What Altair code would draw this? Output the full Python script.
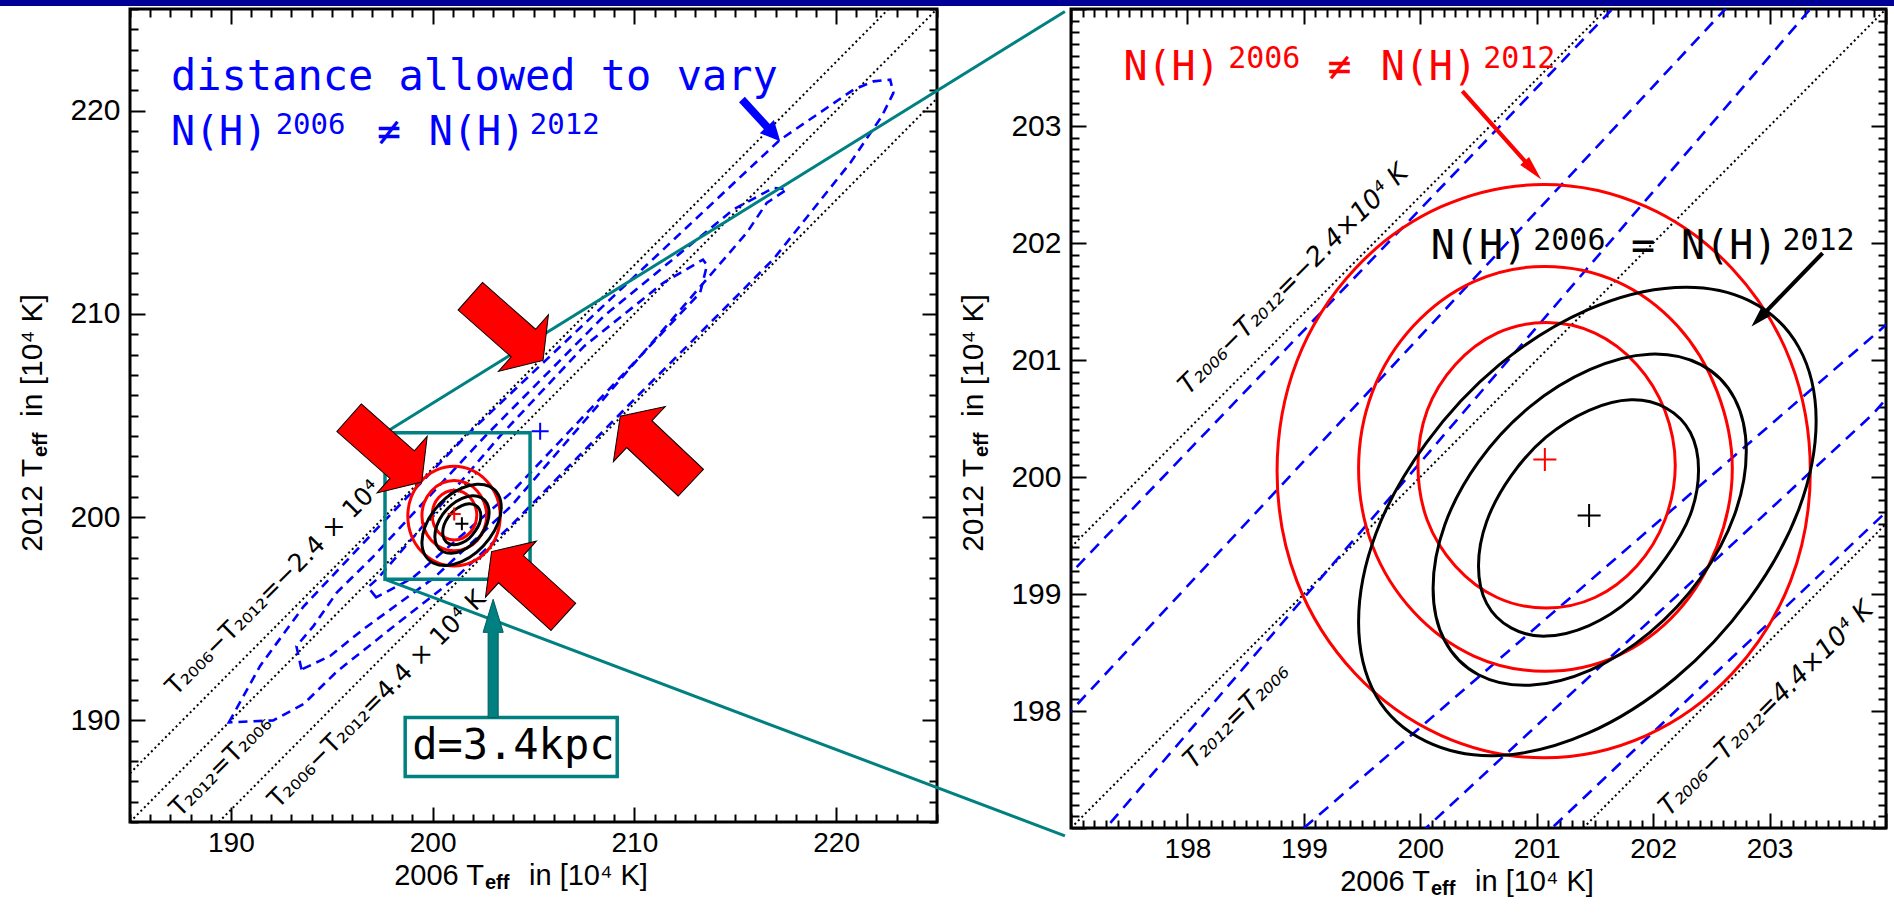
import altair as alt
import pandas as pd

# ===================== DATA (units of 10^4 K) =====================
# dotted guide lines  T2006 - T2012 = -2.4 , 0 , +4.4   (segment ends on each frame)
dotL_x1 = [185.0, 185.0, 189.4]
dotL_y1 = [187.4, 185.0, 185.0]
dotL_x2 = [222.6, 225.0, 225.0]
dotL_y2 = [225.0, 225.0, 220.6]
dotR_x1 = [197.0, 197.0, 201.4]
dotR_y1 = [199.4, 197.0, 197.0]
dotR_x2 = [201.6, 204.0, 204.0]
dotR_y2 = [204.0, 204.0, 199.6]

# blue dashed contours (distance allowed to vary)
blue_outer_x = [189.9, 191.45, 193.6, 197.0, 201.65, 209.0, 217.2, 220.86, 221.85, 222.68, 222.84,
                222.26, 220.70, 216.90, 210.0, 204.0, 201.13, 198.55, 195.25, 193.6, 192.1]
blue_outer_y = [189.9, 192.68, 195.6, 199.18, 204.0, 210.9, 218.55, 221.03, 221.44, 221.52, 220.87,
                219.72, 217.43, 212.70, 205.8, 199.7, 197.0, 195.0, 192.4, 190.8, 190.0]
blue_mid_x = [193.5, 193.25, 194.1, 195.25, 197.0, 202.62, 208.5, 214.9, 216.9, 217.56, 216.56,
              215.57, 203.89, 200.05, 196.57, 194.92]
blue_mid_y = [192.5, 193.65, 194.65, 196.29, 198.0, 204.0, 209.9, 215.13, 216.2, 216.12, 215.46,
              213.99, 200.54, 197.0, 194.49, 193.17]
blue_inner_x = [197.2, 196.8, 197.3, 203.35, 207.5, 211.44, 213.4, 213.6, 213.26, 204.0, 199.0]
blue_inner_y = [196.05, 196.55, 197.0, 204.0, 208.4, 211.53, 212.67, 212.4, 211.04, 201.3, 197.0]

# red contours  N(H)2006 != N(H)2012
red3_x = [203.35, 203.18, 202.68, 201.94, 201.06, 200.18, 199.44, 198.94, 198.77, 198.94, 199.44,
          200.18, 201.06, 201.94, 202.68, 203.18]
red3_y = [200.05, 200.99, 201.78, 202.31, 202.50, 202.31, 201.78, 200.99, 200.05, 199.11, 198.32,
          197.79, 197.60, 197.79, 198.32, 199.11]
red2_x = [202.68, 202.55, 202.21, 201.69, 201.07, 200.46, 199.94, 199.59, 199.47, 199.59, 199.94,
          200.46, 201.07, 201.69, 202.21, 202.55]
red2_y = [200.07, 200.73, 201.29, 201.67, 201.80, 201.67, 201.29, 200.73, 200.07, 199.41, 198.85,
          198.47, 198.34, 198.47, 198.85, 199.41]
red1_x = [202.19, 202.10, 201.86, 201.50, 201.08, 200.66, 200.30, 200.06, 199.98, 200.06, 200.30,
          200.66, 201.08, 201.50, 201.86, 202.10]
red1_y = [200.10, 200.57, 200.96, 201.23, 201.32, 201.23, 200.96, 200.57, 200.10, 199.63, 199.24,
          198.97, 198.88, 198.97, 199.24, 199.63]

# black contours  N(H)2006 = N(H)2012
blk3_x = [203.40, 203.25, 202.82, 202.19, 201.44, 200.68, 200.05, 199.62, 199.47, 199.62, 200.05,
          200.68, 201.44, 202.19, 202.82, 203.25]
blk3_y = [200.48, 201.11, 201.51, 201.62, 201.43, 200.96, 200.29, 199.52, 198.76, 198.13, 197.74,
          197.62, 197.81, 198.28, 198.95, 199.72]
blk2_x = [202.80, 202.70, 202.41, 201.97, 201.46, 200.94, 200.50, 200.21, 200.11, 200.21, 200.50,
          200.94, 201.46, 201.97, 202.41, 202.70]
blk2_y = [200.22, 200.67, 200.96, 201.05, 200.92, 200.60, 200.13, 199.59, 199.05, 198.60, 198.31,
          198.22, 198.35, 198.67, 199.14, 199.68]
blk1_x = [202.39, 202.32, 202.11, 201.81, 201.45, 201.08, 200.78, 200.57, 200.50, 200.57, 200.78,
          201.08, 201.45, 201.81, 202.11, 202.32]
blk1_y = [200.06, 200.38, 200.59, 200.66, 200.57, 200.34, 200.01, 199.62, 199.24, 198.92, 198.71,
          198.64, 198.73, 198.96, 199.31, 199.68]

# best-fit points (blue: free distance, red, black)
best_x = [205.33, 201.07, 201.45]
best_y = [204.23, 200.15, 199.67]
best_name = ["free d", "N(H) differs", "N(H) equal"]

# zoom window shown in the right panel (drawn in the left panel)
zoom_x = [197.64, 204.83]
zoom_y = [196.94, 204.15]

# tick values
ticksL = list(range(185, 226))
ticksR = [round(197 + 0.1 * i, 1) for i in range(71)]

# ===================== STYLE / ANNOTATION LAYOUT =====================
TEAL = "#008080"
NAVY = "#000096"
RED = "#ff0000"
BLUE = "#0000ff"
MONO = "DejaVu Sans Mono"
SANS = "Liberation Sans"
LDOM = [185, 225]
RDOM = [197, 204]
WL, HL = 807, 813
WR, HR = 815, 819

PLUS = "M -1 0 L 1 0 M 0 -1 L 0 1"
BIG_ARROW = "M -1 -0.38 L 0.46 -0.38 L 0.46 -0.78 L 1 0 L 0.46 0.78 L 0.46 0.38 L -1 0.38 Z"
BLUE_ARROW = "M -1 -0.14 L 0.3 -0.14 L 0.3 -0.34 L 1 0 L 0.3 0.34 L 0.3 0.14 L -1 0.14 Z"
RED_THIN = "M -1 -0.035 L 0.58 -0.035 L 0.58 -0.1 L 1 0 L 0.58 0.1 L 0.58 0.035 L -1 0.035 Z"
BLK_THIN = "M -1 -0.04 L 0.6 -0.04 L 0.6 -0.12 L 1 0 L 0.6 0.12 L 0.6 0.04 L -1 0.04 Z"
TEAL_ARROW = "M -1 -0.085 L 0.44 -0.085 L 0.44 -0.17 L 1 0 L 0.44 0.17 L 0.44 0.085 L -1 0.085 Z"


def contour_table(groups):
    rows = []
    for gid, xs, ys in groups:
        for i, (x, y) in enumerate(zip(xs, ys)):
            rows.append({"g": gid, "i": i, "x": x, "y": y})
    return pd.DataFrame(rows)


def X(field, dom, axis=None):
    return alt.X(field, type="quantitative", axis=axis,
                 scale=alt.Scale(domain=dom, nice=False, zero=False))


def Y(field, dom, axis=None):
    return alt.Y(field, type="quantitative", axis=axis,
                 scale=alt.Scale(domain=dom, nice=False, zero=False))


def make_axes(vals, major, labelled):
    tick = {"condition": {"test": major, "value": -15}, "value": -8}
    lab = "(" + labelled + ") ? format(datum.value, '.0f') : ''"
    base = dict(values=vals, tickSize=tick, tickWidth=2, tickColor="black", domain=False,
                grid=False, title=None, labelFlush=False, labelOverlap=False,
                labelColor="black", labelFont=SANS)
    return (alt.Axis(orient="bottom", labelExpr=lab, labelFontSize=28, labelPadding=22, **base),
            alt.Axis(orient="left", labelExpr=lab, labelFontSize=30, labelPadding=25, **base),
            alt.Axis(orient="top", labels=False, **base),
            alt.Axis(orient="right", labels=False, **base))


def one(text):
    return pd.DataFrame({"t": [text]})


def title_layers(xt, yt):
    """Axis titles '2006 T_eff in [10^4 K]' built from pieces (pixel offsets in the panel)."""
    out = []
    x0, y0 = xt
    out.append(alt.Chart(one("2006 T")).mark_text(font=SANS, fontSize=29, align="right",
               baseline="alphabetic", color="black").encode(text="t:N", x=alt.value(x0), y=alt.value(y0)))
    out.append(alt.Chart(one("eff")).mark_text(font=SANS, fontSize=20, fontWeight="bold", align="left",
               baseline="alphabetic", color="black").encode(text="t:N", x=alt.value(x0 + 1), y=alt.value(y0 + 4)))
    out.append(alt.Chart(one("in [10⁴ K]")).mark_text(font=SANS, fontSize=29, align="left",
               baseline="alphabetic", color="black").encode(text="t:N", x=alt.value(x0 + 45), y=alt.value(y0)))
    x1, y1 = yt
    out.append(alt.Chart(one("2012 T")).mark_text(font=SANS, fontSize=30, align="right", angle=270,
               baseline="alphabetic", color="black").encode(text="t:N", x=alt.value(x1), y=alt.value(y1)))
    out.append(alt.Chart(one("eff")).mark_text(font=SANS, fontSize=20, fontWeight="bold", align="left", angle=270,
               dx=2, dy=5, baseline="alphabetic", color="black").encode(text="t:N", x=alt.value(x1), y=alt.value(y1)))
    out.append(alt.Chart(one("in [10⁴ K]")).mark_text(font=SANS, fontSize=30, align="left", angle=270,
               dx=42, baseline="alphabetic", color="black").encode(text="t:N", x=alt.value(x1), y=alt.value(y1)))
    return out


blue_df = contour_table([("outer", blue_outer_x, blue_outer_y), ("mid", blue_mid_x, blue_mid_y),
                         ("inner", blue_inner_x, blue_inner_y)])
red_df = contour_table([("r3", red3_x, red3_y), ("r2", red2_x, red2_y), ("r1", red1_x, red1_y)])
blk_df = contour_table([("k3", blk3_x, blk3_y), ("k2", blk2_x, blk2_y), ("k1", blk1_x, blk1_y)])
best_df = pd.DataFrame({"x": best_x, "y": best_y, "name": best_name})


def common_layers(dom, dots, clip, plus_sizes, plus_colors, lw, dash):
    d = pd.DataFrame({"x1": dots[0], "y1": dots[1], "x2": dots[2], "y2": dots[3]})
    layers = []
    layers.append(alt.Chart(d).mark_rule(color="black", strokeWidth=2, strokeDash=[2, 3], clip=clip)
                  .encode(x=X("x1", dom), y=Y("y1", dom), x2="x2:Q", y2="y2:Q"))
    layers.append(alt.Chart(blue_df).mark_line(color=BLUE, strokeWidth=2.6, strokeDash=dash,
                                               interpolate="linear-closed", clip=clip)
                  .encode(x=X("x", dom), y=Y("y", dom), detail="g:N", order="i:Q"))
    layers.append(alt.Chart(red_df).mark_line(color=RED, strokeWidth=lw, interpolate="cardinal-closed", clip=clip)
                  .encode(x=X("x", dom), y=Y("y", dom), detail="g:N", order="i:Q"))
    layers.append(alt.Chart(blk_df).mark_line(color="black", strokeWidth=lw, interpolate="cardinal-closed", clip=clip)
                  .encode(x=X("x", dom), y=Y("y", dom), detail="g:N", order="i:Q"))
    p = best_df.copy()
    p["s"] = plus_sizes
    p["c"] = plus_colors
    p = p[(p.x <= dom[1]) & (p.y <= dom[1])]
    layers.append(alt.Chart(p).mark_point(shape=PLUS, filled=False, strokeWidth=2, opacity=1)
                  .encode(x=X("x", dom), y=Y("y", dom), size=alt.Size("s:Q", scale=None),
                          color=alt.Color("c:N", scale=None)))
    return layers


def carriers(dom, axes):
    axb, axl, axt, axr = axes
    c = alt.Chart(pd.DataFrame({"x": dom, "y": dom})).mark_point(opacity=0, size=1)
    return [c.encode(x=X("x", dom, axb), y=Y("y", dom, axl)),
            c.encode(x=X("x", dom, axt), y=Y("y", dom, axr))]


# ---------------- LEFT PANEL ----------------
L = carriers(LDOM, make_axes(ticksL, "datum.value % 10 === 0", "datum.value % 10 === 0"))
L += common_layers(LDOM, (dotL_x1, dotL_y1, dotL_x2, dotL_y2), False,
                   [289, 169, 169], [BLUE, RED, "black"], 3, [9, 6])

labL = pd.DataFrame({
    "t": ["T₂₀₀₆−T₂₀₁₂=−2.4 × 10⁴", "T₂₀₁₂=T₂₀₀₆", "T₂₀₀₆−T₂₀₁₂=4.4 × 10⁴ K"],
    "x": [192.1, 189.49, 197.23], "y": [196.53, 187.76, 191.04]})
L.append(alt.Chart(labL).mark_text(font="DejaVu Sans", fontSize=25, angle=315, align="center",
                                   baseline="middle", color="black")
         .encode(x=X("x", LDOM), y=Y("y", LDOM), text="t:N"))

# zoom frame and connecting lines
zf = pd.DataFrame({"x1": [zoom_x[0]], "x2": [zoom_x[1]], "y1": [zoom_y[0]], "y2": [zoom_y[1]]})
L.append(alt.Chart(zf).mark_rect(fillOpacity=0, stroke=TEAL, strokeWidth=3.5)
         .encode(x=X("x1", LDOM), x2="x2:Q", y=Y("y1", LDOM), y2="y2:Q"))
zl = pd.DataFrame({"x1": [zoom_x[0], zoom_x[0]], "y1": [zoom_y[1], zoom_y[0]],
                   "x2": [231.34, 231.34], "y2": [224.88, 184.32]})
L.append(alt.Chart(zl).mark_rule(color=TEAL, strokeWidth=3)
         .encode(x=X("x1", LDOM), y=Y("y1", LDOM), x2="x2:Q", y2="y2:Q"))

# big red arrows pointing at the solution
ra = pd.DataFrame({"x": [203.67, 197.66, 211.05, 204.70], "y": [209.29, 203.31, 203.33, 196.70],
                   "a": [41.4, 41.5, 223.3, 222.3]})
L.append(alt.Chart(ra).mark_point(shape=BIG_ARROW, size=9409, filled=True, fill=RED, stroke="black",
                                  strokeWidth=1, opacity=1)
         .encode(x=X("x", LDOM), y=Y("y", LDOM), angle=alt.Angle("a:Q", scale=None)))
ba = pd.DataFrame({"x": [216.28], "y": [219.52], "a": [47.4]})
L.append(alt.Chart(ba).mark_point(shape=BLUE_ARROW, size=3204, filled=True, fill=BLUE, strokeWidth=0, opacity=1)
         .encode(x=X("x", LDOM), y=Y("y", LDOM), angle=alt.Angle("a:Q", scale=None)))

annL = pd.DataFrame({
    "t": ["distance allowed to vary", "N(H)", "2006", "≠", "N(H)", "2012"],
    "x": [187.03, 187.03, 192.22, 197.23, 199.81, 204.82],
    "y": [221.03, 218.32, 218.85, 218.32, 218.32, 218.85],
    "s": [42, 40, 29, 40, 40, 29]})
L.append(alt.Chart(annL).mark_text(font=MONO, align="left", baseline="alphabetic", color=BLUE)
         .encode(x=X("x", LDOM), y=Y("y", LDOM), text="t:N", size=alt.Size("s:Q", scale=None)))

# d = 3.4 kpc box with teal arrow
db = pd.DataFrame({"x1": [198.64], "x2": [209.15], "y1": [187.24], "y2": [190.14]})
L.append(alt.Chart(db).mark_rect(fill="white", stroke=TEAL, strokeWidth=3.5)
         .encode(x=X("x1", LDOM), x2="x2:Q", y=Y("y1", LDOM), y2="y2:Q"))
L.append(alt.Chart(pd.DataFrame({"t": ["d=3.4kpc"], "x": [204.0], "y": [188.09]}))
         .mark_text(font=MONO, fontSize=42, align="center", baseline="alphabetic", color="black")
         .encode(x=X("x", LDOM), y=Y("y", LDOM), text="t:N"))
ta = pd.DataFrame({"x": [203.0], "y": [193.05], "a": [270]})
L.append(alt.Chart(ta).mark_point(shape=TEAL_ARROW, size=13995, filled=True, fill=TEAL, stroke="#005c5c",
                                  strokeWidth=1, opacity=1)
         .encode(x=X("x", LDOM), y=Y("y", LDOM), angle=alt.Angle("a:Q", scale=None)))

# header band of the slide
L.append(alt.Chart(one("band")).mark_rect(color=NAVY)
         .encode(x=alt.value(-130), x2=alt.value(1764), y=alt.value(-9), y2=alt.value(-3)))
L += title_layers((354, 876), (-88, 450))

left = alt.layer(*L).resolve_axis(x="independent", y="independent").properties(width=WL, height=HL)

# ---------------- RIGHT PANEL ----------------
R = carriers(RDOM, make_axes(ticksR, "abs(datum.value - round(datum.value)) < 0.001",
                             "abs(datum.value - round(datum.value)) < 0.001 && datum.value > 197.5 && datum.value < 203.5"))
R += common_layers(RDOM, (dotR_x1, dotR_y1, dotR_x2, dotR_y2), True,
                   [529, 529, 529], [BLUE, RED, "black"], 3, [12, 8])
labR = pd.DataFrame({
    "t": ["T₂₀₀₆−T₂₀₁₂=−2.4×10⁴ K", "T₂₀₁₂=T₂₀₀₆", "T₂₀₀₆−T₂₀₁₂=4.4×10⁴ K"],
    "x": [198.91, 198.42, 202.97], "y": [201.69, 197.96, 198.02]})
R.append(alt.Chart(labR).mark_text(font="DejaVu Sans", fontSize=26, fontStyle="italic", angle=315,
                                   align="center", baseline="middle", color="black")
         .encode(x=X("x", RDOM), y=Y("y", RDOM), text="t:N"))
tr = pd.DataFrame({"x": [200.70], "y": [202.92], "a": [48.2]})
R.append(alt.Chart(tr).mark_point(shape=RED_THIN, size=14019, filled=True, fill=RED, strokeWidth=0, opacity=1)
         .encode(x=X("x", RDOM), y=Y("y", RDOM), angle=alt.Angle("a:Q", scale=None)))
tb = pd.DataFrame({"x": [203.15], "y": [201.60], "a": [134.1]})
R.append(alt.Chart(tb).mark_point(shape=BLK_THIN, size=10445, filled=True, fill="black", strokeWidth=0, opacity=1)
         .encode(x=X("x", RDOM), y=Y("y", RDOM), angle=alt.Angle("a:Q", scale=None)))
annR = pd.DataFrame({
    "t": ["N(H)", "2006", "≠", "N(H)", "2012", "N(H)", "2006", "=", "N(H)", "2012"],
    "x": [197.45, 198.35, 199.20, 199.66, 200.54, 200.09, 200.97, 201.81, 202.24, 203.11],
    "y": [203.39, 203.50, 203.39, 203.39, 203.50, 201.86, 201.94, 201.86, 201.86, 201.94],
    "s": [40, 30, 40, 40, 30, 40, 30, 40, 40, 30],
    "c": [RED] * 5 + ["black"] * 5})
R.append(alt.Chart(annR).mark_text(font=MONO, align="left", baseline="alphabetic")
         .encode(x=X("x", RDOM), y=Y("y", RDOM), text="t:N", size=alt.Size("s:Q", scale=None),
                 color=alt.Color("c:N", scale=None)))
R += title_layers((359, 882), (-88, 450))

right = alt.layer(*R).resolve_axis(x="independent", y="independent").properties(width=WR, height=HR)

chart = (alt.hconcat(left, right, spacing=134, bounds="flush")
         .properties(autosize=alt.AutoSizeParams(type="none"),
                     padding={"left": 130, "top": 9, "right": 1764, "bottom": 908},
                     background="white")
         .configure_view(stroke="black", strokeWidth=3))

chart.save("out.html", embed_options={"renderer": "svg", "actions": False})
